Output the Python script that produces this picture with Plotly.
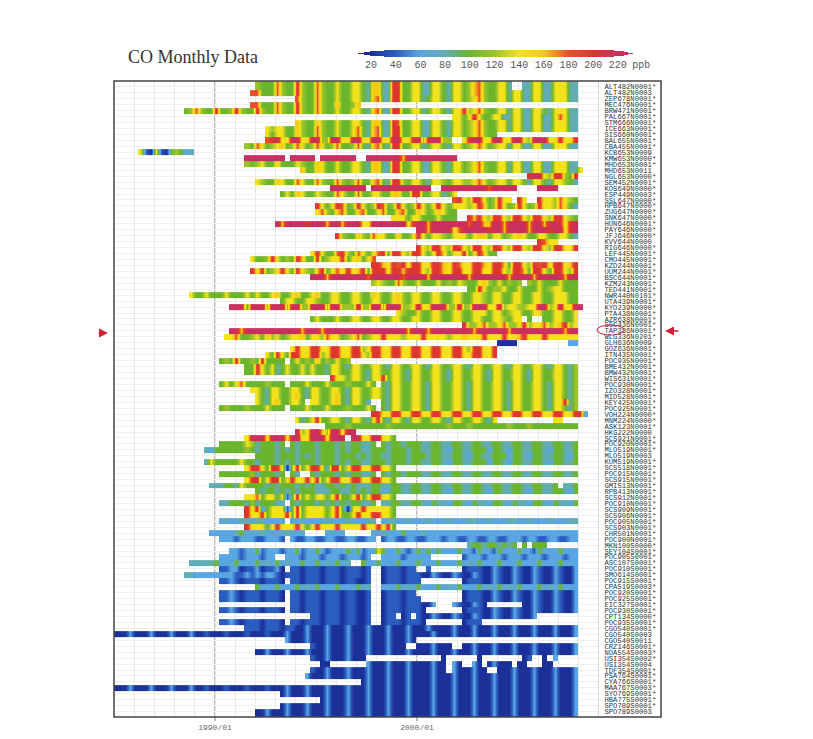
import plotly.graph_objects as go

STATIONS_ARCTIC = [
    "ALT482N0001*", "ALT482N0003", "ZEP678N0001*", "MEC476N0001*", "BRW471N0001*", "PAL667N0001*",
    "STM666N0001*", "ICE663N0001*", "SIS660N0001*", "BAL655N0001*", "CBA455N0001*", "KCB653N0009",
    "KMW653N0000*", "MHD653N0001*", "MHD653N0011", "NGL653N0000*", "SEM452N0001*", "KOS649N0000*",
    "ESP449N0003*", "SSL647N0000*", "HPB647N0000*", "ZUG647N0000*", "SNK647N0000*", "HUN646N0001*",
    "PAY646N0000*", "JFJ646N0000*", "KVV644N0000", "RIG646N0000*",
]
STATIONS_MIDLAT = [
    "LEF445N0001*", "CMO445N0001*", "KZD244N0001*", "UUM244N0001*", "BSC644N0001*", "KZM243N0001*",
    "TED441N0001*", "NWR440N0101*", "UTA439N0001*", "KYO239N0000*", "PTA438N0001*", "AZR638N0001*",
    "SGC436N0001*", "TAP336N0001*", "WLG336N0201*", "GLH636N0009", "GOZ636N0001*", "ITN435N0001*",
    "POC935N0001*", "BME432N0001*", "BMW432N0001*", "WIS631N0001*", "POC930N0001*", "IZO328N0001*",
    "MID528N0001*", "KEY425N0001*", "POC925N0001*", "VOH224N0000*", "MNM224N0000*", "ASK123N0001*",
]
STATIONS_TROPICS = [
    "HKG222N0000", "SCS921N0001*", "POC920N0001*", "MLO519N0001*", "MLO519N0003", "KUM519N0001*",
    "SCS518N0001*", "POC915N0001*", "SCS915N0001*", "GMI513N0001*", "RPB413N0001*", "SCS912N0001*",
    "POC910N0001*", "SCS909N0001*", "SCS906N0001*", "POC905N0001*", "SCS903N0001*", "CHR501N0001*",
    "POC900N0001*", "MKN100S0000*", "SEY104S0001*", "POC905S0001*", "ASC107S0001*", "POC910S0001*",
]
STATIONS_SOUTH = [
    "SMO614S0001*", "POC915S0001*", "CPA519S0003*", "POC920S0001*", "POC925S0001*", "EIC327S0001*",
    "POC930S0001*", "CPT134S0000*", "POC935S0001*", "CGO540S0001*", "CGO540S0003", "CGO540S0011",
    "CRZ146S0001*", "NOA554S0003*", "USI354S0002*", "USI354S0004", "TDF354S0001*", "PSA764S0001*",
    "CYA766S0001*", "MAA767S0003*", "SYO769S0001*", "HBA775S0001*", "SPO789S0001*", "SPO789S0003",
]

# first year, then four quarters per year: 1-9,a,b = 20..220 ppb, "." = no data
CO_ARCTIC = [
    "1992 6555 9655 a655 9655 7557 7548 844a a557 7447 7547 7568 9655 774. .447 7447 7744",
    "1991 ...9 9555 9655 a655 9655 7557 7548 844a a557 7447 7547 7568 9655 7747 7447 7447 7744",
    "1994 9655 9655 7557 7548 944a a557 7457 7547 7567 9655 7747 7447 7447 7744",
    "1991 ...9 9555 9655 a655 9655 8556 8...",
    "1988 ..56 9655 a556 a655 a655 9655 a655 9655 7557 7548 944a a557 7457 7547 7a67 9655 7747 7447 7547 7744",
    "2001 ...7 757a 7557 7447 7447 7447 9744",
    "1994 8655 8655 7557 7548 844a 9557 7447 7547 7567 9655 7747 7447 7447 7744",
    "1992 ..76 7755 8655 9655 7557 9548 944a a557 7447 7547 7567 9655 7747 7447 7447 7744",
    "1992 ..75 7755 8655 9655 7557 9548 944a a557 7447 7547 7567 9655",
    "1992 ..9a b77b b77b b66b b77b b77b b77b b77a b6ab b66. .7ab b77b b77b b76b bb77 a77a",
    "1991 ..65 9756 7856 9756 9756 9556 9548 954a a557 7457 7547 7567 9756 7747 7447 7447 7744",
    "1986 .721 7215 6534",
    "1991 ..bb bbbb bb.b bbbb .bbb bbbb ..bb bbbb b8bb bbbb bbbb",
    "1991 ..65 6755 8555 7655 8755 7557 7548 844a a557 7447 7547 7567 9655 7747 7447 7447 7744",
    "1994 .855 8755 7557 7548 844a a557 7447 7547 7567 9655 7747 7447 7447 7744 7",
    "2005 ..ab b76a a65a",
    "1992 7655 8755 9755 9655 9656 9558 954a a657 7547 7657 7667 9756 7757 7547 7547 7654",
    "1995 ...b bbbb bb.b bbbb bbbb bbb. .bbb bbbb bb9b bbbb .... bbbb",
    "1993 .575 8755 7655 9755 9557 7558 855a a557 7457",
    "2001 ...9 a76a a756 a77. a7.. a776 9765",
    "1995 a757 a956 a756 a956 a756 a757 a757 7767 a856 a756 a756 a776 9754",
    "1995 7965 8955 8955 7955 8955 8756 8755",
    "1998 ...7 7757 7555 7555 ..a8 a76a a76a a76a a76a a765",
    "1993 b8bb bbab bb8b b8bb b77b bbbb bb7a bb8b bbbb bb9b b88b b8bb bb8b b8bb a7ab",
    "2000 bb8b bbb7 9bbb bbab b8bb bb8b bbab b7ab",
    "1996 a655 8659 7755 8557 a757 7657 7757 8857 7567 8755 7755 7754",
    "2006 a977",
    "2000 a76a a76a a76a a76a a76a a76a a76a a77a",
]
CO_MIDLAT = [
    "1994 ...7 a755 9a65 9757 9a5a a76a a757 a857 7a57 a855",
    "1991 ...7 556a 7565 a855 a567 7a57 8579",
    "1997 ...a a87a 9a7a a77a a87a 977a a87a a85a a76a 9a7a a78a",
    "1991 ...a 7a56 7a75 a765 8a57 97a7 8a5a aa7a a8aa a76a a87a a77a a77a a76a a85a a75a a76a",
    "1994 ...b bb8b bbbb bb9b bbbb b9bb bb8b bbbb bb8b bbbb bb8b bbb8 bbbb b8bb",
    "1997 ...6 7655 9655 7555 7565 7655 7865 7565 6.65 7555 7555",
    "2002 ..55 a756 6755 7555 7567 7555",
    "1988 ...7 5575 5575 5575 7557 8557 8557 8557 7557 7558 7557 8657 7557 7557 7557 7657 7557 7557 7557 7755",
    "1993 .577 5577 6557 7557 7557 7557 8657 7557 7557 7557 7657 7557 7557 7557 7755",
    "1990 ...b bb5b bb6b bb6b b66b bb6b b666 b66b b6bb b667 b77b bb66 b66b bb77 b677 6677 bb67 b77b b",
    "1999 7655 7557 7557 7557 7757 7567 7557 7557 7557",
    "1994 ...5 7555 7557 7557 7557 7557 7557 7557 7557 7557 7657 7.5. .557 7557",
    "2002 .a66 7966 7966 7a67 7967 8a67",
    "1990 ...b b8bb bbbb bbbb b8bb b8bb bbbb bbbb bbbb bb8b bb8b bbbb bbb8 bbbb bb8b bbbb bbbb b8bb",
    "1990 ..77 9556 7586 7567 7857 7697 7567 9567 7a77 7677 7a77 7767 7877 7a77 7a77 8a77 7a77 7777",
    "2004 1111 .... .... ..33",
    "1993 ...7 a77a a77a a77a a67a a77a a77a a77a a77a a76a a77a",
    "1992 ..75 a75a a77a a67a a77a a76a a77a a77a a77a a77a a77a a77a",
    "1990 .565 a556 5a55 55.5 7565 8565 756.",
    "1991 ..55 a757 4575 5757 5547 7547 7557 7547 7557 7547 7557 7547 7557 7547 7557 7547 7546",
    "1991 ..55 a757 4575 5757 5547 7557 7547 7557 7547 7557 7547 7557 7547 7557 7547 7557 7546",
    "1995 ...a 7757 7547 7a57 7547 7557 7547 7557 7547 7557 7547 7557 7546",
    "1990 .575 7955 5565 55.5 5575 5575 5565 5575 .547 7557 7547 7557 7547 7557 7547 7557 7547 7546",
    "1991 ...7 7547 7557 7547 7557 7547 7557 7547 7557 7547 7557 7547 7557 7547 7557 7547 7546",
    "1992 7547 7557 8547 7557 8547 7557 7547 7557 7547 7557 7547 7557 7547 7557 7547 7546",
    "1992 7547 8557 75.7 7557 8547 754. .547 7557 7547 7557 7547 7557 7547 7557 7547 7a46",
    "1990 .565 5565 5575 55.5 5575 5575 5565 5575 .547 7557 7547 7557 7547 7557 7547 7557 7547 7546",
    "1997 ...a a77a a77a a77a a77a a77a a77a a77a a77a a77a a77a a3",
    "1994 7457 a557 7547 7547 a547 7547 7557 7547 7557 7547 .... .... ...7 7",
    "1995 ..55 5565 5555 5565 5555 5555 5565 5565 5555 5565 5565 5555 5555",
]
CO_TROPICS = [
    "1994 b67b b86b b7bb",
    "1991 ..7b bb7b bb7b b77b bb7b bb.b b77b b775",
    "1990 .555 5576 4555 45.5 4555 4555 4545 5445 .545 5455 5445 5445 5445 5445 5445 5445 5445 5445",
    "1989 ..43 5555 5565 4555 4545 4555 4555 4545 5445 5545 5545 5445 5435 5445 5535 5435 5445 5435 5445",
    "1992 5555 4555 4545 4555 4555 4545 5445 5545 5545 5445 5435 5445 5535 5435 5445 5435",
    "1989 ..47 5555 5755 4555 4545 4555 4555 4545 5445 5545 5545 5445 5435 5445 5535 5435 5445 5435 5445",
    "1991 ..7a a75a a716 a57a a73a a57a a77a a775",
    "1990 .555 5556 4555 45.5 4..5 4555 4545 5445 .545 5455 5445 5445 5445 5445 5445 5445 5445 5445",
    "1991 ..7a a57a a57a 77a7 a57a a77a a77a a775",
    "1989 ...4 4455 4755 5545 4555 4545 4455 4545 4445 5445 5445 5445 5445 5445 5445 5445 5445 5445 .445",
    "1992 5455 4545 4555 4445 5445 4545 5345 5445 5445 5435 5445 5435 5445 5435 5445 5435",
    "1991 ..77 9577 5725 a575 7757 a557 a57a a775",
    "1990 .445 5546 4555 44.5 4555 4545 4545 5445 .445 5445 5435 4435 5435 4435 5435 4435 5435 4435",
    "1991 ..a7 a357 7725 a577 7757 a517 7a77 7775",
    "1991 ..a7 7a57 77a5 a577 7757 a557 a77a a775",
    "1990 .343 3443 4433 33.3 3433 3343 3343 3344 .344 3343 3343 3343 3344 3343 3344 3343 3343 3344",
    "1991 ..a7 7757 a777 a757 a777 a777 7a77 a7a5",
    "1989 ...3 3333 4533 3433 3343 33.. ..33 33.. ...3 3433 3533 3433 3333 3333 3333 3333 3333 3333 3333",
    "1990 .333 2333 2233 32.3 2233 2233 2233 2233 .233 2233 2233 3233 2233 2233 2233 3233 2233 2233",
    "2002 ..45 5455 4545 .5.5 55..",
    "1990 ...3 3233 5233 3233 5233 5323 3353 5233 7533 5323 5353 5333 5332 5332 5333 5332 5333 5333",
    "1990 .333 3233 3233 ..33 3233 3233 3233 323. .333 3233 333. .... .233 3233 3233 3233 3233 3233",
    "1988 ...4 4444 5333 5333 5343 5343 3533 5343 534. .533 5333 5333 5333 5333 5343 5333 5333 5333 5333 5333",
    "1990 .223 3122 3122 31.2 2122 2122 2122 212. .122 2122 ..2. .... .122 2113 2113 2113 2113 2113",
]
CO_SOUTH = [
    "1988 ..44 3333 3333 2232 3233 2122 2122 2122 2122 212. .122 2122 2113 2113 2113 2113 2113 2113 2113 2113",
    "1990 .223 2122 2122 21.2 2122 2122 2122 112. .122 2122 2... .... .122 2113 2113 2113 2113 2113",
    "1992 5333 5333 5343 5333 5333 534. .333 5343 5333 5343 5333 5343 5343 5333 5343 5333",
    "1990 .223 2122 2122 21.2 2122 2122 2122 112. .122 2122 .... .... .122 2113 2113 2113 2113 2113",
    "1990 .223 2122 2122 21.2 2122 2122 2122 112. .122 2122 2... .... .122 2113 2113 2113 2113 2113",
    "1993 ...2 2122 2122 2122 112. .122 2122 2113 ...3 2113 21.. .... .113 2113 2113",
    "1990 .223 2122 2122 21.2 2122 2122 2122 112. .122 2122 21.. .... .122 2113 2113 2113 2113 2113",
    "1994 ...2 2122 2122 112. .122 .12. 2113 2113 2113 2113 2113 2113",
    "1990 .223 2122 2122 21.2 2122 2122 2122 112. .122 2122 21.. .... .122 2.",
    "1991 ..22 2122 2122 1131 1131 1131 1131 1131 1131 1131 1113 1113 1113 1113 1113 1113 1113",
    "1985 1113 1113 1113 1113 1121 1121 1121 1121 1131 1131 1131 1131 1131 1131 1131 1113 1113 1113 1113 1113 1113 1113 1113",
    "1993 ..31 1131 1131 1131 1131 1131 1131",
    "1994 ...2 1131 1131 1131 1131 11.. 1113 111. .113 1113 1113 1113 1113 1113",
    "1992 1131 1131 1131 1131 1131 1131 1131 1131 1113 1113 1113 1113 1113 1113 1113 1113",
    "1994 ...2 1131 1131 11.. .... .... .... .1.. .... 1... .... .12. .1.3",
    "1995 .11. .... ..31 1131 1131 1113 11.3 1..3 1.13 111. 11.. .11.",
    "1994 ...2 1131 1131 1131 1131 1131 1113 11.3 1113 11.. 1113 1113 1113 1113",
    "1994 ..31 1131 1131 1131 1131 1131 1113 1113 1113 1113 1113 1113 1113 1113",
    "1997 .131 1131 1131 1113 1113 1113 1113 1113 1113 1113 1113",
    "1985 1113 1113 1113 1113 1121 1121 1121 1121 1131 1131 1131 1131 1131 1131 1131 1113 1113 1113 1113 1113 1113 1113 1113",
    "1993 .131 1131 1131 1131 1131 1131 1131 1113 1113 1113 1113 1113 1113 1113 1113",
    "1995 .131 1131 1131 1131 1131 1113 1113 1113 1113 1113 1113 1113 1113",
    "1993 .131 1131 1131 1131 1131 1131 1131 1113 1113 1113 1113 1113 1113 1113 1113",
    "1992 1131 1131 1131 1131 1131 1131 1131 1131 1113 1113 1113 1113 1113 1113 1113 1113",
]

BAR_TICKS = [20, 40, 60, 80, 100, 120, 140, 160, 180, 200, 220]
BAR_PPB = list(range(8, 234))
YEAR_START = 1985
N_QUARTERS = 96

CO_COLORS = [
    [0.0, "#2a1470"], [20 / 240, "#1c309a"], [40 / 240, "#2b5cc0"], [60 / 240, "#5aa6e2"],
    [80 / 240, "#62acb4"], [100 / 240, "#6bb52d"], [120 / 240, "#9cc42a"], [140 / 240, "#f2e21b"],
    [160 / 240, "#f6c814"], [180 / 240, "#e8502a"], [200 / 240, "#dd3530"], [220 / 240, "#c9305f"],
    [1.0, "#a83070"],
]


def decode(record):
    first, *years = record.split()
    cells = "." * (4 * (int(first) - YEAR_START)) + "".join(years)
    cells = cells.ljust(N_QUARTERS, ".")
    return [None if c == "." else int(c, 16) * 20 for c in cells]


stations = STATIONS_ARCTIC + STATIONS_MIDLAT + STATIONS_TROPICS + STATIONS_SOUTH
records = CO_ARCTIC + CO_MIDLAT + CO_TROPICS + CO_SOUTH
rows = list(range(len(stations)))
x = [YEAR_START + i / 4 + 0.06 for i in range(N_QUARTERS)]
# each station twice, at the top and bottom of its band, so zsmooth only blends along time
z, y = [], []
for r, record in zip(rows, records):
    z += [decode(record), decode(record)]
    y += [r - 0.49, r + 0.49]

# page pixels, the browser adds an 8px body margin
PAD = 8
W, H = 813 - 2 * PAD, 739 - 2 * PAD
L, R, T, B = 114 - PAD, 661 - PAD, 46 - PAD, 717 - PAD


def px_x(v):
    return (v - PAD - L) / (R - L)


def px_y(v):
    return (B - (v - PAD)) / (B - T)


fig = go.Figure()
fig.add_trace(go.Heatmap(
    x=x, y=y, z=z, colorscale=CO_COLORS, zmin=0, zmax=240, showscale=False, hoverongaps=False,
    zsmooth="best",
))

# lens shaped scale bar above the chart
bar_levels = [0.9, 0.7, 0.5, 0.3, 0.1, 0.1, 0.3, 0.5, 0.7, 0.9]
bar_z = [[v if min((v - 7) / 26, (234 - v) / 20) >= level else None for v in BAR_PPB] for level in bar_levels]
fig.add_trace(go.Heatmap(
    x=BAR_PPB, y=list(range(10)), z=bar_z, colorscale=CO_COLORS, zmin=0, zmax=240, showscale=False,
    xaxis="x2", yaxis="y2", hoverinfo="skip",
))

fig.update_layout(
    width=W, height=H, margin=dict(l=L, r=W - R, t=T, b=H - B),
    paper_bgcolor="white", plot_bgcolor="white", showlegend=False,
    xaxis=dict(
        domain=[0, px_x(598)], range=[1985, 2008.96], automargin=False, tickangle=0,
        tickvals=list(range(1985, 2009)),
        ticktext=["1990/01" if v == 1990 else "2000/01" if v == 2000 else "" for v in range(1985, 2009)],
        ticklabelstandoff=4,
        tickfont=dict(family="Liberation Mono", size=8, color="#666666"),
        showgrid=True, gridcolor="#e6e6e6", gridwidth=1, zeroline=False, ticklen=0,
    ),
    yaxis=dict(
        domain=[0, px_y(81)], range=[105.9, -1.0], side="right", anchor="x", automargin=False,
        tickvals=rows, ticktext=stations, ticklabelstandoff=4,
        tickfont=dict(family="Liberation Mono", size=7.2, color="#333333"),
        showgrid=True, gridcolor="#efefef", gridwidth=1, zeroline=False, ticklen=0,
        showline=True, linecolor="#d4d4d4", linewidth=1,
    ),
    xaxis2=dict(
        domain=[px_x(355), px_x(645)], range=[7, 242], anchor="y2", automargin=False, tickangle=0,
        tickvals=BAR_TICKS + [239], ticktext=[str(t) for t in BAR_TICKS] + ["ppb"],
        tickfont=dict(family="Liberation Mono", size=10, color="#555555"),
        showgrid=False, zeroline=False, ticklen=0,
    ),
    yaxis2=dict(
        domain=[px_y(57), px_y(50)], range=[-0.5, 9.5], anchor="x2", showticklabels=False, automargin=False,
        showgrid=False, zeroline=False, ticklen=0,
    ),
    annotations=[
        dict(text="CO Monthly Data", xref="paper", yref="paper", x=px_x(126), y=px_y(57), xanchor="left",
             yanchor="middle", showarrow=False, font=dict(family="Liberation Serif", size=18, color="#333333")),
        dict(text="", xref="paper", yref="paper", x=px_x(108), y=px_y(333), axref="pixel", ayref="pixel",
             ax=-11, ay=0, showarrow=True, arrowhead=2, arrowsize=1.2, arrowwidth=1.5, arrowcolor="#cc2233"),
        dict(text="", xref="paper", yref="paper", x=px_x(665), y=px_y(331), axref="pixel", ayref="pixel",
             ax=15, ay=0, showarrow=True, arrowhead=2, arrowsize=1.2, arrowwidth=1.5, arrowcolor="#cc2233"),
    ],
    shapes=[
        dict(type="rect", xref="paper", yref="paper", x0=0, x1=1, y0=0, y1=px_y(81),
             line=dict(color="#444444", width=1.5)),
        dict(type="line", xref="x", yref="paper", x0=1990, x1=1990, y0=-0.006, y1=px_y(81),
             line=dict(color="#777777", width=1), layer="below"),
        dict(type="line", xref="x", yref="paper", x0=2000, x1=2000, y0=-0.006, y1=px_y(81),
             line=dict(color="#777777", width=1), layer="below"),
        dict(type="circle", xref="paper", yref="paper", x0=px_x(597), x1=px_x(624), y0=px_y(335), y1=px_y(325),
             line=dict(color="#cc2233", width=1)),
    ],
)

fig.write_html("out.html")
